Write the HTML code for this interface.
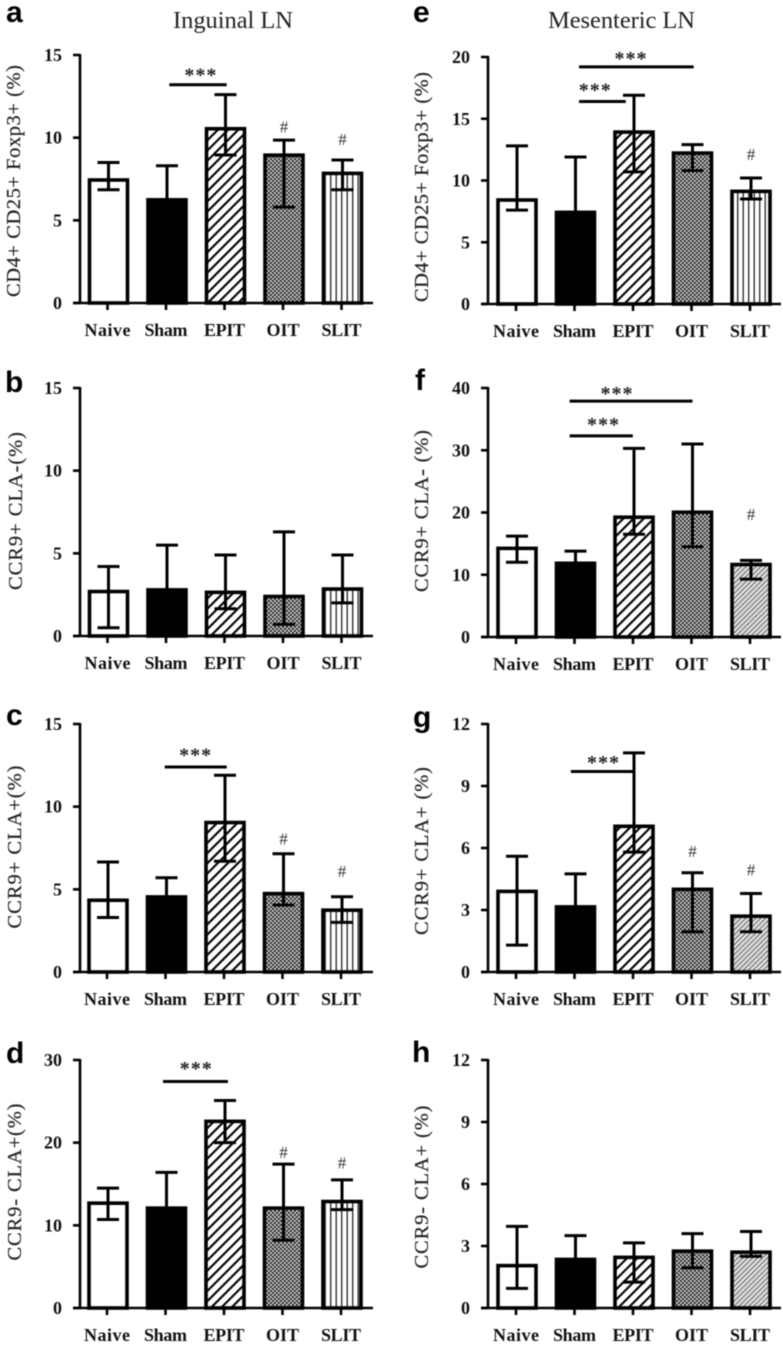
<!DOCTYPE html>
<html>
<head>
<meta charset="utf-8">
<title>Inguinal and Mesenteric LN bar charts</title>
<style>
html,body{margin:0;padding:0;background:#fff;}
#figure{display:block;width:783px;height:1346px;filter:blur(0.65px);}
text{font-family:"Liberation Serif",serif;fill:#111;}
.tick{font-size:18px;font-weight:bold;text-anchor:end;}
.cat{font-size:18px;font-weight:bold;text-anchor:middle;}
.ylab{font-size:20.5px;text-anchor:middle;fill:#222;stroke:#222;stroke-width:.2;}
.title{font-size:24.5px;text-anchor:start;fill:#222;}
.letter{font-family:"Liberation Sans",sans-serif;font-size:30px;font-weight:bold;fill:#000;}
.stars{font-size:20px;font-weight:bold;text-anchor:middle;fill:#222;}
.hash{font-size:17px;text-anchor:middle;fill:#333;}
</style>
</head>
<body>
<svg id="figure" xmlns="http://www.w3.org/2000/svg" width="783" height="1346" viewBox="0 0 783 1346">
<defs>
<pattern id="p-diag" patternUnits="userSpaceOnUse" width="7.2" height="7.2" patternTransform="rotate(45)"><rect width="7.2" height="7.2" fill="#fff"/><rect width="2.1" height="7.2" fill="#000"/></pattern>
<pattern id="p-dots" patternUnits="userSpaceOnUse" width="4" height="4"><rect width="4" height="4" fill="#999"/><rect width="2" height="2" fill="#333"/><rect x="2" y="2" width="2" height="2" fill="#333"/><rect x="0" y="2" width="1.4" height="1.4" fill="#eee"/><rect x="2" y="0" width="1.4" height="1.4" fill="#eee"/></pattern>
<pattern id="p-vert" patternUnits="userSpaceOnUse" width="5.5" height="5"><rect width="5.5" height="5" fill="#fff"/><rect width="1.4" height="5" fill="#333"/></pattern>
<pattern id="p-fine" patternUnits="userSpaceOnUse" width="3.5" height="3.5" patternTransform="rotate(45)"><rect width="3.5" height="3.5" fill="#e6e6e6"/><rect width="1.3" height="3.5" fill="#777"/></pattern>
</defs>
<text class="title" x="173" y="28" textLength="120">Inguinal LN</text>
<text class="title" x="548" y="28" textLength="147">Mesenteric LN</text>
</svg>
<script>
// Shared categories
const categories = ['Naive', 'Sham', 'EPIT', 'OIT', 'SLIT'];

// Panel a
const meansA = [7.44, 6.24, 10.54, 8.94, 7.84];
const upperA = [8.5, 8.3, 12.6, 9.85, 8.65];
const lowerA = [6.85, 4.3, 8.95, 5.8, 6.85];
const ticksA = [0, 5, 10, 15];
// Panel b
const meansB = [2.69, 2.79, 2.64, 2.39, 2.84];
const upperB = [4.2, 5.5, 4.9, 6.3, 4.9];
const lowerB = [0.5, 0.8, 1.65, 0.7, 2.0];
const ticksB = [0, 5, 10, 15];
// Panel c
const meansC = [4.34, 4.54, 9.04, 4.74, 3.74];
const upperC = [6.65, 5.7, 11.9, 7.15, 4.55];
const lowerC = [3.3, 3.5, 6.7, 4.05, 3.0];
const ticksC = [0, 5, 10, 15];
// Panel d
const meansD = [12.68, 12.08, 22.58, 12.08, 12.88];
const upperD = [14.5, 16.4, 25.1, 17.4, 15.5];
const lowerD = [10.7, 8.0, 20.0, 8.2, 11.9];
const ticksD = [0, 10, 20, 30];
// Panel e
const meansE = [8.42, 7.42, 13.92, 12.22, 9.12];
const upperE = [12.8, 11.9, 16.9, 12.9, 10.2];
const lowerE = [7.6, 3.1, 10.7, 10.8, 8.5];
const ticksE = [0, 5, 10, 15, 20];
// Panel f
const meansF = [14.24, 11.84, 19.24, 20.04, 11.64];
const upperF = [16.2, 13.8, 30.3, 31.0, 12.3];
const lowerF = [12.0, 10.2, 16.5, 14.5, 9.3];
const ticksF = [0, 10, 20, 30, 40];
// Panel g
const meansG = [3.9, 3.15, 7.05, 4.0, 2.7];
const upperG = [5.6, 4.75, 10.6, 4.8, 3.8];
const lowerG = [1.3, 1.6, 5.8, 1.95, 1.95];
const ticksG = [0, 3, 6, 9, 12];
// Panel h
const meansH = [2.05, 2.35, 2.45, 2.75, 2.7];
const upperH = [3.95, 3.5, 3.15, 3.6, 3.7];
const lowerH = [0.95, 1.3, 1.25, 1.95, 2.5];
const ticksH = [0, 3, 6, 9, 12];

const NS = 'http://www.w3.org/2000/svg';
const svg = document.getElementById('figure');
const fills = ['#fff', '#000', 'url(#p-diag)', 'url(#p-dots)'];

const panels = [
  {id:'a', means:meansA, upper:upperA, lower:lowerA, ticks:ticksA, axisX:80, top:55, base:303, x0:108.5, lab:'CD4+ CD25+ Foxp3+ (%)', labX:20, labY:181, labL:232, letX:6, letY:22, slit:'url(#p-vert)',
   sig:[[1.04,2.02,13.2,1.57,14.0]], hash:[[3,10.6],[4,9.85]]},
  {id:'b', means:meansB, upper:upperB, lower:lowerB, ticks:ticksB, axisX:80, top:388, base:636, x0:108.5, lab:'CCR9+ CLA-(%)', labX:22, labY:511, labL:158, letX:5, letY:392, slit:'url(#p-vert)', sig:[], hash:[]},
  {id:'c', means:meansC, upper:upperC, lower:lowerC, ticks:ticksC, axisX:80, top:724, base:972, x0:108, lab:'CCR9+ CLA+(%)', labX:21, labY:847, labL:163, letX:6, letY:725, slit:'url(#p-vert)',
   sig:[[0.97,2.03,12.4,1.49,13.35]], hash:[[3,8.0],[4,6.05]]},
  {id:'d', means:meansD, upper:upperD, lower:lowerD, ticks:ticksD, axisX:80, top:1060, base:1308, x0:108, lab:'CCR9- CLA+(%)', labX:21, labY:1182, labL:157, letX:6, letY:1063, slit:'url(#p-vert)',
   sig:[[0.94,2.05,27.4,1.5,29.4]], hash:[[3,18.75],[4,17.5]]},
  {id:'e', means:meansE, upper:upperE, lower:lowerE, ticks:ticksE, axisX:488, top:57, base:304, x0:517, lab:'CD4+ CD25+ Foxp3+ (%)', labX:428, labY:187, labL:230, letX:413, letY:22, slit:'url(#p-vert)',
   sig:[[1.06,3.02,19.2,1.94,20.15],[1.06,1.86,16.4,1.33,17.6]], hash:[[4,12.05]]},
  {id:'f', means:meansF, upper:upperF, lower:lowerF, ticks:ticksF, axisX:488, top:388, base:637, x0:517, lab:'CCR9+ CLA- (%)', labX:428, labY:511, labL:162, letX:415, letY:390, slit:'url(#p-fine)',
   sig:[[0.9,3.0,37.9,1.7,39.7],[0.9,1.98,32.3,1.47,34.7]], hash:[[4,19.6]]},
  {id:'g', means:meansG, upper:upperG, lower:lowerG, ticks:ticksG, axisX:488, top:724, base:972, x0:517, lab:'CCR9+ CLA+ (%)', labX:428, labY:851, labL:168, letX:413, letY:727, slit:'url(#p-fine)',
   sig:[[0.92,1.98,9.7,1.47,10.3]], hash:[[3,5.8],[4,4.9]]},
  {id:'h', means:meansH, upper:upperH, lower:lowerH, ticks:ticksH, axisX:488, top:1060, base:1308, x0:517, lab:'CCR9- CLA+ (%)', labX:428, labY:1187, labL:163, letX:412, letY:1062, slit:'url(#p-fine)', sig:[], hash:[]}
];

function make(tag, attrs, parent) {
  const node = document.createElementNS(NS, tag);
  for (const k in attrs) node.setAttribute(k, attrs[k]);
  parent.appendChild(node);
  return node;
}

const catWidths = {Naive:46, Sham:43, EPIT:41, OIT:33, SLIT:40};
const STEP = 58.5;

panels.forEach(function (p) {
  const group = make('g', {}, svg);
  
  

  const maxTick = p.ticks[p.ticks.length - 1];
  const yScale = function (v) { return p.base - (v / maxTick) * (p.base - p.top); };
  const xScale = function (i) { return p.x0 + i * STEP; };

  const letter = make('text', {class:'letter', x:p.letX, y:p.letY}, group);
  letter.textContent = p.id;
  
  

  const ylab = make('text', {class:'ylab', x:0, y:0, transform:'translate(' + p.labX + ' ' + p.labY + ') rotate(-90)', textLength:p.labL}, group);
  ylab.textContent = p.lab;
  
  

  // bars
  categories.forEach(function (c, i) {
    const cx = xScale(i);
    const bar = make('rect', {x:cx - 19, y:yScale(p.means[i]), width:38, height:p.base - yScale(p.means[i]),
      fill: i === 4 ? p.slit : fills[i], stroke:'#000', 'stroke-width':3.6}, group);
    
    

    const err = make('path', {
      d:'M' + cx + ' ' + yScale(p.lower[i]) + 'V' + yScale(p.upper[i]) +
        'M' + (cx - 11) + ' ' + yScale(p.upper[i]) + 'H' + (cx + 11) +
        'M' + (cx - 11) + ' ' + yScale(p.lower[i]) + 'H' + (cx + 11),
      fill:'none', stroke:'#000', 'stroke-width':3}, group);
    
    

    const tickMark = make('line', {x1:cx - 1, x2:cx - 1, y1:p.base, y2:p.base + 7, stroke:'#000', 'stroke-width':2.6}, group);
    
    

    const lab = make('text', {class:'cat', x:cx - 1, y:p.base + 33, textLength:catWidths[c]}, group);
    lab.textContent = c;
    
    
  });

  // axes
  const yAxis = make('line', {x1:p.axisX, x2:p.axisX, y1:p.top - 1, y2:p.base + 1, stroke:'#000', 'stroke-width':2.6}, group);
  
  

  const xAxis = make('line', {x1:p.axisX - 7, x2:p.axisX + 293, y1:p.base, y2:p.base, stroke:'#000', 'stroke-width':2.6}, group);
  
  

  p.ticks.forEach(function (t) {
    const mark = make('line', {x1:p.axisX - 7, x2:p.axisX, y1:yScale(t), y2:yScale(t), stroke:'#000', 'stroke-width':2.6}, group);
    
    

    const lab = make('text', {class:'tick', x:p.axisX - 18, y:yScale(t) + 6}, group);
    lab.textContent = t;
    
    
  });

  // significance brackets
  p.sig.forEach(function (s) {
    const line = make('line', {x1:xScale(s[0]), x2:xScale(s[1]), y1:yScale(s[2]), y2:yScale(s[2]), stroke:'#000', 'stroke-width':3}, group);
    
    

    const stars = make('text', {class:'stars', x:xScale(s[3]), y:yScale(s[4]) + 10, textLength:32}, group);
    stars.textContent = '***';
    
    
  });

  // hash markers
  p.hash.forEach(function (h) {
    const mark = make('text', {class:'hash', x:xScale(h[0]), y:yScale(h[1]) + 5}, group);
    mark.textContent = '#';
    
    
  });
});
</script>
</body>
</html>
